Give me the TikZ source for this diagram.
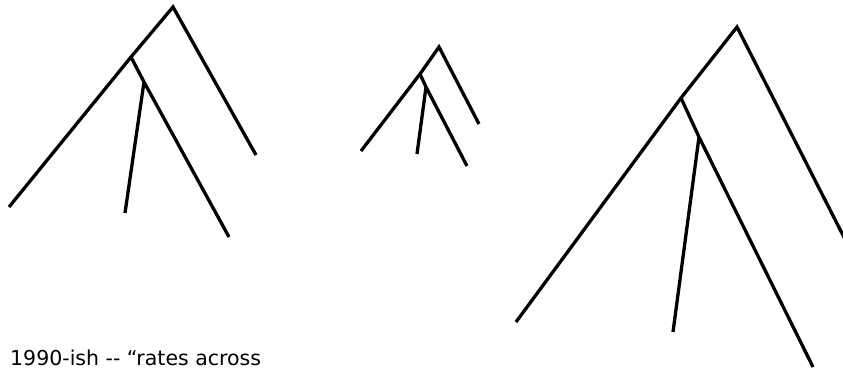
\documentclass[tikz,border=0pt]{standalone}
\usepackage{fontspec}
\setmainfont{DejaVu Sans}
\usetikzlibrary{positioning}

\begin{document}
\begin{tikzpicture}[
  x=1pt, y=-1pt,
  rama/.style={line width=3.3pt, line join=miter},
  nota/.style={anchor=base west, inner sep=0pt, font=\fontsize{20.5}{24}\selectfont}
]
\useasboundingbox (0,0) rectangle (843,370);
% arbol grande
\coordinate (r1) at (173,7);
\coordinate (i1) at (131,57);
\coordinate (j1) at (144,82);
\coordinate (a1) at (9,207);
\coordinate (b1) at (125,213);
\coordinate (c1) at (229,237);
\coordinate (d1) at (256,155);
\draw[rama] (a1) -- (i1) -- (r1) -- (d1);
\draw[rama] (i1) -- (j1) -- (c1);
\draw[rama] (j1) -- (b1);
% arbol chico
\coordinate (r2) at (439,47);
\coordinate (i2) at (420,74);
\coordinate (j2) at (426,87);
\coordinate (a2) at (361,151);
\coordinate (b2) at (417,154);
\coordinate (c2) at (467,166);
\coordinate (d2) at (479,124);
\draw[rama] (a2) -- (i2) -- (r2) -- (d2);
\draw[rama] (i2) -- (j2) -- (c2);
\draw[rama] (j2) -- (b2);
% arbol de la derecha
\coordinate (r3) at (737,27);
\coordinate (i3) at (681,98);
\coordinate (j3) at (699,137);
\coordinate (a3) at (516,322);
\coordinate (b3) at (673,332);
\coordinate (c3) at (813,367);
\coordinate (d3) at (851,251);
\begin{scope}
\clip (0,0) rectangle (843,370);
\draw[rama] (a3) -- (i3) -- (r3) -- (d3);
\draw[rama] (i3) -- (j3) -- (c3);
\draw[rama] (j3) -- (b3);
\end{scope}
\node[nota] (texto) at (10,365) {1990-ish -{}- “rates across};
\end{tikzpicture}
\end{document}
